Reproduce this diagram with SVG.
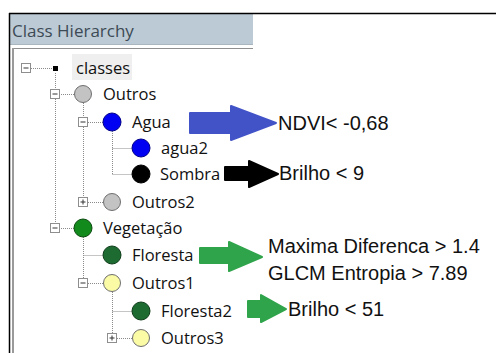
<svg xmlns="http://www.w3.org/2000/svg" width="496" height="353" viewBox="0 0 496 353">
<style>
.t{font-family:"Open Sans","Noto Sans",sans-serif;font-size:16.5px;fill:#111}
.r{font-family:"Liberation Sans",Arial,sans-serif;font-size:20px;fill:#111}
.dl{stroke:#8a8a8a;stroke-width:1;stroke-dasharray:1 1;fill:none}
.ex{fill:#fff;stroke:#8e8e8e;stroke-width:1}
.sg{stroke:#333;stroke-width:1}
.grey{fill:#c3c3c3;stroke:#6e6e6e;stroke-width:1}
.yel{fill:#fbfba6;stroke:#6e6e6e;stroke-width:1}
.blue{fill:#0000f2;stroke:#00008a;stroke-width:1}
.blk{fill:#000;stroke:#000;stroke-width:1}
.grn{fill:#138a1c;stroke:#0b4a10;stroke-width:1}
.dgr{fill:#1d6b31;stroke:#0f3d1a;stroke-width:1}
.arr{stroke-width:2;stroke-linejoin:round}
</style>
<rect x="0" y="0" width="496" height="353" fill="#fff"/>
<g id="window">
<rect x="10" y="14" width="243" height="30" fill="#bccad5"/>
<line x1="10" y1="44.5" x2="253" y2="44.5" stroke="#a9b6bf"/>
<line x1="12" y1="48.5" x2="253" y2="48.5" stroke="#8f8f8f"/>
<line x1="13" y1="48" x2="13" y2="353" stroke="#9a9a9a" stroke-width="2"/>
<line x1="9" y1="13.5" x2="496" y2="13.5" stroke="#000" stroke-width="1.5"/>
<line x1="9.5" y1="13" x2="9.5" y2="353" stroke="#000" stroke-width="1.5"/>
<text x="12" y="37" style="font-family:'Open Sans','Noto Sans',sans-serif;font-size:17px;fill:#3d4b56">Class Hierarchy</text>
</g>
<g id="connectors">
<line class="dl" x1="31" y1="68.5" x2="52" y2="68.5"/>
<line class="dl" x1="55.5" y1="73" x2="55.5" y2="228"/>
<line class="dl" x1="59" y1="94.5" x2="74" y2="94.5"/>
<line class="dl" x1="59" y1="228.5" x2="74" y2="228.5"/>
<line class="dl" x1="83.5" y1="103" x2="83.5" y2="202"/>
<line class="dl" x1="88" y1="122.5" x2="103" y2="122.5"/>
<line class="dl" x1="88" y1="202.5" x2="103" y2="202.5"/>
<line class="dl" x1="112.5" y1="131" x2="112.5" y2="174.5"/>
<line class="dl" x1="112.5" y1="148.5" x2="132" y2="148.5"/>
<line class="dl" x1="112.5" y1="174.5" x2="132" y2="174.5"/>
<line class="dl" x1="83.5" y1="237" x2="83.5" y2="283"/>
<line class="dl" x1="83.5" y1="255.5" x2="103" y2="255.5"/>
<line class="dl" x1="88" y1="283.5" x2="103" y2="283.5"/>
<line class="dl" x1="112.5" y1="292" x2="112.5" y2="338"/>
<line class="dl" x1="112.5" y1="311.5" x2="132" y2="311.5"/>
<line class="dl" x1="117" y1="338.5" x2="132" y2="338.5"/>
</g>
<g id="arrows">
<path class="arr" fill="#4253c8" stroke="#4253c8" d="M190,113 L231,113 L231,106 L276,123 L231,140 L231,133 L190,133 Z"/>
<path class="arr" fill="#000" stroke="#000" d="M225,167 L249,167 L249,161 L278,174 L249,187 L249,180 L225,180 Z"/>
<path class="arr" fill="#2fa44b" stroke="#2fa44b" d="M200,248 L229,248 L229,242 L262,257 L229,271 L229,263 L200,263 Z"/>
<path class="arr" fill="#2fa44b" stroke="#2fa44b" d="M248,301 L261,301 L261,295 L286,309 L261,322 L261,317 L248,317 Z"/>
</g>
<g id="node-classes">
<rect x="72" y="54" width="60" height="26" fill="#efefef"/>
<rect class="ex" x="21.5" y="63.5" width="9" height="9"/>
<line class="sg" x1="23.5" y1="68" x2="28.5" y2="68"/>
<rect x="53" y="66" width="5" height="5" fill="#000"/>
<text class="t" x="76" y="74">classes</text>
</g>
<g id="node-outros">
<rect class="ex" x="50.5" y="89.5" width="9" height="9"/>
<line class="sg" x1="52.5" y1="94" x2="57.5" y2="94"/>
<circle class="grey" cx="83" cy="94" r="8.5"/>
<text class="t" x="103" y="100">Outros</text>
</g>
<g id="node-agua">
<rect class="ex" x="78.5" y="117.5" width="9" height="9"/>
<line class="sg" x1="80.5" y1="122" x2="85.5" y2="122"/>
<circle class="blue" cx="112" cy="122" r="9"/>
<text class="t" x="132" y="128">Agua</text>
</g>
<g id="node-agua2">
<circle class="blue" cx="141" cy="148" r="9"/>
<text class="t" x="161" y="154">agua2</text>
</g>
<g id="node-sombra">
<circle class="blk" cx="141" cy="174" r="9"/>
<text class="t" x="160" y="180">Sombra</text>
</g>
<g id="node-outros2">
<rect class="ex" x="78.5" y="197.5" width="9" height="9"/>
<line class="sg" x1="80.5" y1="202" x2="85.5" y2="202"/>
<line class="sg" x1="83" y1="199.5" x2="83" y2="204.5"/>
<circle class="grey" cx="112" cy="202" r="8.5"/>
<text class="t" x="132" y="208">Outros2</text>
</g>
<g id="node-vegetacao">
<rect class="ex" x="50.5" y="223.5" width="9" height="9"/>
<line class="sg" x1="52.5" y1="228" x2="57.5" y2="228"/>
<circle class="grn" cx="83" cy="228" r="9"/>
<text class="t" x="103" y="234">Vegetação</text>
</g>
<g id="node-floresta">
<circle class="dgr" cx="112" cy="255" r="9"/>
<text class="t" x="132" y="261">Floresta</text>
</g>
<g id="node-outros1">
<rect class="ex" x="78.5" y="278.5" width="9" height="9"/>
<line class="sg" x1="80.5" y1="283" x2="85.5" y2="283"/>
<circle class="yel" cx="112" cy="283" r="8.5"/>
<text class="t" x="132" y="289">Outros1</text>
</g>
<g id="node-floresta2">
<circle class="dgr" cx="141" cy="311" r="9"/>
<text class="t" x="161" y="317">Floresta2</text>
</g>
<g id="node-outros3">
<rect class="ex" x="107.5" y="333.5" width="9" height="9"/>
<line class="sg" x1="109.5" y1="338" x2="114.5" y2="338"/>
<line class="sg" x1="112" y1="335.5" x2="112" y2="340.5"/>
<circle class="yel" cx="141" cy="338" r="8.5"/>
<text class="t" x="161" y="344">Outros3</text>
</g>
<g id="labels">
<text class="r" x="278" y="130">NDVI&lt; -0,68</text>
<text class="r" x="279" y="180">Brilho &lt; 9</text>
<text class="r" x="268" y="253">Maxima Diferenca &gt; 1.4</text>
<text class="r" x="268" y="280">GLCM Entropia &gt; 7.89</text>
<text class="r" x="288" y="316">Brilho &lt; 51</text>
</g>
</svg>
